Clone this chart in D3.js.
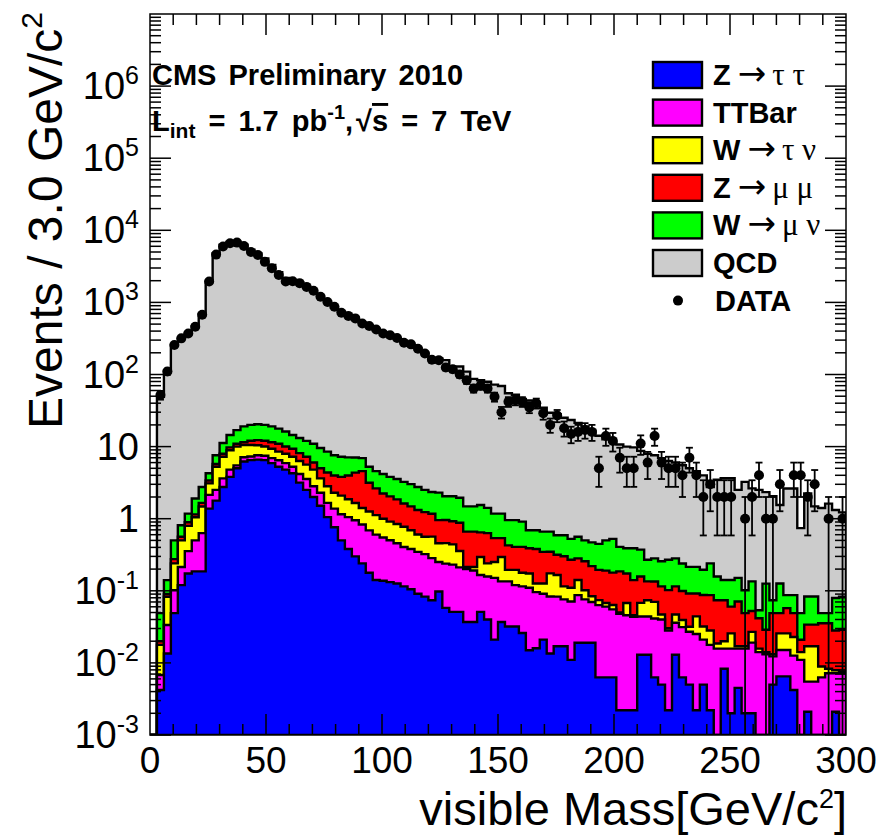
<!DOCTYPE html>
<html>
<head>
<meta charset="utf-8">
<script src="https://cdn.jsdelivr.net/npm/d3@7"></script>
<style>
  body { margin: 0; background: #fff; }
  text { font-family: "Liberation Sans", Arial, Helvetica, sans-serif; fill: #000; }
  .arrow { font-family: "DejaVu Sans", sans-serif; font-weight: normal; }
  .greek { font-family: "Liberation Serif", "DejaVu Serif", serif; font-weight: normal; }
</style>
</head>
<body>
<div id="chart"></div>
<script>
// 100 bins of 3 GeV, visible mass 0-300
const binWidth = 3;
const binLow = d3.range(0, 300, binWidth);

// MC samples (events per bin), stacked bottom -> top
const ztautau = [0,
  0.0042, 0.0135, 0.049, 0.12, 0.174, 0.186, 0.186, 1.38, 1.78, 2.75,
  3.8, 5.0, 6.2, 6.5, 6.6, 6.5, 5.9, 5.25, 4.8, 4.27,
  3.16, 2.51, 2.0, 1.51, 1.05, 0.76, 0.50, 0.38, 0.30, 0.24,
  0.178, 0.141, 0.138, 0.132, 0.126, 0.115, 0.105, 0.091, 0.083, 0.074,
  0.098, 0.058, 0.051, 0.051, 0.037, 0.037, 0.051, 0.040, 0.021, 0.037,
  0.032, 0.032, 0.026, 0.015, 0.016, 0.021, 0.0135, 0.017, 0.017, 0.011,
  0.019, 0.019, 0.019, 0.0063, 0.0063, 0.0063, 0.0022, 0.0022, 0.0022, 0.013,
  0.013, 0.0063, 0.005, 0.0022, 0.013, 0.0063, 0.005, 0.0022, 0.005, 0.0022,
  0, 0.0083, 0.002, 0.0045, 0.002, 0.002, 0, 0, 0.005, 0.0065,
  0.0065, 0.0042, 0, 0.0021, 0, 0, 0, 0.0021, 0];

const ttbar = [0,
  0.0026, 0.020, 0.053, 0.094, 0.181, 0.315, 0.445, 0.76, 0.73, 0.88,
  0.99, 0.49, 0.91, 0.78, 0.98, 0.95, 1.03, 1.21, 1.1, 0.98,
  1.01, 1.04, 0.82, 0.78, 0.61, 0.62, 0.65, 0.67, 0.65, 0.59,
  0.51, 0.46, 0.41, 0.37, 0.33, 0.29, 0.275, 0.256, 0.24, 0.21,
  0.153, 0.18, 0.18, 0.16, 0.163, 0.154, 0.115, 0.118, 0.13, 0.098,
  0.103, 0.088, 0.089, 0.095, 0.080, 0.070, 0.070, 0.066, 0.059, 0.060,
  0.068, 0.057, 0.051, 0.057, 0.054, 0.049, 0.0457, 0.0435, 0.0415, 0.031,
  0.031, 0.035, 0.035, 0.026, 0.023, 0.025, 0.022, 0.023, 0.016, 0.0156,
  0.0158, 0.0075, 0.0138, 0.0113, 0.0138, 0.0171, 0.0141, 0.0132, 0.0073, 0.0086,
  0.0086, 0.0084, 0.011, 0.0034, 0.0055, 0.0063, 0.0072, 0.0051, 0.0072];

const wtaunu = [0,
  0.011, 0.049, 0.138, 0.287, 0.439, 0.546, 0.848, 0.95, 2.74, 3.61,
  4.12, 4.5, 3.39, 3.23, 2.88, 2.59, 2.41, 2.05, 2.05, 1.99,
  2.14, 2.07, 1.97, 1.34, 1.16, 0.91, 0.94, 0.81, 0.70, 0.58,
  0.57, 0.52, 0.45, 0.41, 0.39, 0.37, 0.31, 0.256, 0.24, 0.28,
  0.206, 0.22, 0.21, 0.146, 0.014, 0.023, 0.129, 0.082, 0.10, 0.16,
  0.060, 0.075, 0.063, 0.064, 0.030, 0.035, 0.091, 0.083, 0.039, 0.039,
  0.054, 0.026, 0.014, 0.011, 0.0073, 0.0081, 0.0022, 0.0219, 0.002, 0.024,
  0.030, 0.029, 0.007, 0.002, 0.011, 0.008, 0.0047, 0.019, 0.011, 0.0104,
  0.0028, 0.0042, 0.0099, 0.0012, 0.0012, 0.0078, 0.0017, 0.0009, 0.0009, 0.0106,
  0.0106, 0.0103, 0.0031, 0.0115, 0.0115, 0.0026, 0.0011, 0.0007, 0.0004];

const zmumu = [0,
  0.0022, 0.008, 0.035, 0.061, 0.097, 0.10, 0.181, 0.30, 0.50, 0.70,
  0.86, 0.96, 1.01, 1.55, 1.83, 2.02, 2.15, 2.45, 2.06, 2.09,
  1.82, 1.62, 1.24, 1.38, 1.55, 1.69, 1.71, 2.12, 2.71, 3.16,
  1.90, 1.51, 1.24, 1.13, 1.01, 0.85, 0.79, 0.715, 0.67, 0.61,
  0.50, 0.50, 0.48, 0.52, 0.447, 0.447, 0.351, 0.391, 0.286, 0.242,
  0.232, 0.212, 0.229, 0.215, 0.254, 0.221, 0.173, 0.15, 0.187, 0.159,
  0.141, 0.155, 0.136, 0.121, 0.123, 0.115, 0.136, 0.106, 0.095, 0.090,
  0.061, 0.064, 0.068, 0.072, 0.068, 0.060, 0.060, 0.0475, 0.0555, 0.059,
  0.0555, 0.054, 0.0346, 0.054, 0.032, 0.0256, 0.0259, 0.0147, 0.0358, 0.0233,
  0.0318, 0.0261, 0.0068, 0.0169, 0.0169, 0.0266, 0.0272, 0.0203, 0.0212];

const wmunu = [0,
  0.029, 0.050, 0.226, 0.251, 0.284, 0.757, 1.094, 0.88, 1.84, 3.28,
  4.68, 6.0, 7.57, 7.93, 8.1, 7.93, 7.57, 6.82, 6.22, 5.12,
  5.05, 4.78, 4.93, 4.54, 4.14, 3.61, 3.44, 3.10, 2.71, 2.35,
  2.09, 1.94, 1.93, 1.76, 1.69, 1.62, 1.54, 1.43, 1.28, 1.17,
  1.34, 1.09, 1.13, 1.08, 0.82, 0.82, 0.90, 0.78, 0.64, 0.64,
  0.528, 0.548, 0.505, 0.303, 0.312, 0.314, 0.314, 0.273, 0.287, 0.256,
  0.28, 0.244, 0.249, 0.252, 0.31, 0.347, 0.221, 0.215, 0.248, 0.214,
  0.134, 0.147, 0.142, 0.167, 0.167, 0.14, 0.123, 0.123, 0.108, 0.153,
  0.084, 0.067, 0.081, 0.080, 0.053, 0.0825, 0.012, 0.097, 0.0251, 0.077,
  0.0296, 0.0381, 0.0281, 0.0493, 0.0493, 0.0135, 0.0135, 0.0512, 0.054];

const qcd = [0,
  49, 112, 256, 315, 371, 466, 689, 1946, 4778, 6299,
  6904, 6901, 6291, 5350, 4766, 4054, 3292, 2612, 2172, 1981,
  1892, 1648, 1402, 1220, 1014, 843, 734, 654, 582, 518,
  463, 412, 376, 351, 312, 279, 254, 231, 197, 164,
  164, 156, 127, 127, 108, 85.6, 81.6, 78, 71.2, 68,
  54, 51.5, 44.8, 43, 35.6, 34.0, 28.8, 27.6, 24.5, 22.9,
  20.8, 18.5, 16.1, 13.7, 12.1, 11.2, 10.3, 9.6, 9.38, 8.34,
  7.67, 7.31, 6.66, 6.04, 5.75, 5.26, 4.80, 4.36, 3.79, 2.51,
  3.31, 3.49, 3.49, 2.36, 3.14, 2.50, 2.46, 2.21, 1.97, 1.42,
  2.54, 2.54, 0.692, 2.16, 1.40, 1.36, 1.57, 1.24, 1.14];

// observed events per bin
const data = [0,
  52, 110, 257, 317, 371, 460, 675, 1950, 4600, 5950,
  6600, 6750, 6050, 5000, 4560, 3650, 2970, 2400, 1950, 1960,
  1850, 1640, 1450, 1200, 1010, 870, 720, 650, 600, 510,
  470, 420, 370, 350, 320, 275, 262, 228, 195, 160,
  158, 125, 118, 100, 83, 64, 70, 64, 49, 30,
  42, 44, 42, 35, 40, 29, 20, 27, 18, 15,
  16, 17, 16, 5, 14, 12, 7, 5, 5, 11,
  6, 14, 6, 5, 5, 4, 7, 4, 2, 3,
  2, 2, 2, 0, 1, 2, 4, 1, 1, 3,
  0, 4, 4, 2, 3, 0, 1, 0, 1];

const sampleKeys = ["ztautau", "ttbar", "wtaunu", "zmumu", "wmunu", "qcd"];
const sampleColors = ["#0000ff", "#ff00ff", "#ffff00", "#ff0000", "#00ff00", "#cccccc"];
// [bold part, arrow, decay products]
const legendNames = [["Z", "→", "τ τ"], ["TTBar", "", ""], ["W", "→", "τ ν"],
                     ["Z", "→", "μ μ"], ["W", "→", "μ ν"], ["QCD", "", ""]];

const xTickLabels = [0, 50, 100, 150, 200, 250, 300];
const yDecades = [-3, -2, -1, 0, 1, 2, 3, 4, 5, 6];

class StackPlot {

    constructor(selector) {
        this.width = 883;
        this.height = 836;
        this.frame = {left: 150, right: 846, top: 14, bottom: 735};

        this.svg = d3.select(selector)
            .append("svg")
                .attr("width", this.width)
                .attr("height", this.height);
        this.svg.append("rect")
            .attr("width", this.width).attr("height", this.height).attr("fill", "#fff");

        this.x = d3.scaleLinear().domain([0, 300]).range([this.frame.left, this.frame.right]);
        this.y = d3.scaleLog().domain([1e-3, 1e7]).range([this.frame.bottom, this.frame.top]);

        this.svg.append("clipPath").attr("id", "frameClip")
            .append("rect")
                .attr("x", this.frame.left).attr("y", this.frame.top)
                .attr("width", this.frame.right - this.frame.left)
                .attr("height", this.frame.bottom - this.frame.top);

        this.drawStack();
        this.drawData();
        this.drawAxes();
        this.drawLegend();
        this.drawTitles();
    }

    // y position, anything at or below the axis minimum sits on the frame bottom
    yc(v) {
        return v > 1e-3 ? this.y(v) : this.frame.bottom;
    }

    drawStack() {
        const series = {ztautau, ttbar, wtaunu, zmumu, wmunu, qcd};
        const rows = binLow.map((lo, i) => {
            const row = {lo: lo};
            sampleKeys.forEach(k => row[k] = series[k][i]);
            return row;
        });
        const layers = d3.stack().keys(sampleKeys)(rows);

        const stepPath = layer => {
            let p = `M${this.x(0)},${this.frame.bottom}`;
            layer.forEach((d, i) => {
                const yy = this.yc(d[1]);
                p += `L${this.x(binLow[i])},${yy}L${this.x(binLow[i] + binWidth)},${yy}`;
            });
            return p + `L${this.x(300)},${this.frame.bottom}Z`;
        };

        // biggest cumulative first, like a ROOT THStack
        this.svg.append("g")
            .attr("clip-path", "url(#frameClip)")
            .selectAll("path")
            .data(layers.slice().reverse())
            .join("path")
                .attr("d", stepPath)
                .attr("fill", d => sampleColors[d.index])
                .attr("stroke", "#000")
                .attr("stroke-width", 2.4)
                .attr("stroke-linejoin", "miter");
    }

    drawData() {
        const pts = data.map((n, i) => ({n: n, lo: binLow[i]})).filter(d => d.n > 0);
        const cx = d => this.x(d.lo + binWidth / 2);
        const hi = d => this.yc(d.n + Math.sqrt(d.n));
        const lo = d => this.yc(d.n - Math.sqrt(d.n));
        const g = this.svg.append("g")
            .attr("clip-path", "url(#frameClip)")
            .attr("stroke", "#000")
            .attr("stroke-width", 1.8);

        // vertical sqrt(N) errors
        g.selectAll(".ey").data(pts).join("line")
            .attr("x1", cx).attr("x2", cx)
            .attr("y1", lo).attr("y2", hi);
        // bin width
        g.selectAll(".ex").data(pts).join("line")
            .attr("x1", d => this.x(d.lo)).attr("x2", d => this.x(d.lo + binWidth))
            .attr("y1", d => this.y(d.n)).attr("y2", d => this.y(d.n));
        // end caps
        g.selectAll(".capHi").data(pts).join("line")
            .attr("x1", d => cx(d) - 3.5).attr("x2", d => cx(d) + 3.5)
            .attr("y1", hi).attr("y2", hi);
        g.selectAll(".capLo").data(pts).join("line")
            .attr("x1", d => cx(d) - 3.5).attr("x2", d => cx(d) + 3.5)
            .attr("y1", lo).attr("y2", lo);

        g.selectAll("circle").data(pts).join("circle")
            .attr("cx", cx)
            .attr("cy", d => this.y(d.n))
            .attr("r", 5)
            .attr("fill", "#000")
            .attr("stroke", "none");
    }

    drawAxes() {
        const f = this.frame;
        const g = this.svg.append("g").attr("stroke", "#000").attr("stroke-width", 1.5);

        g.append("rect")
            .attr("x", f.left).attr("y", f.top)
            .attr("width", f.right - f.left).attr("height", f.bottom - f.top)
            .attr("fill", "none");

        const xTicks = d3.range(10, 300, 10);
        const xLen = d => d % 50 === 0 ? 21 : 11;
        g.selectAll(".xb").data(xTicks).join("line")
            .attr("x1", d => this.x(d)).attr("x2", d => this.x(d))
            .attr("y1", f.bottom).attr("y2", d => f.bottom - xLen(d));
        g.selectAll(".xt").data(xTicks).join("line")
            .attr("x1", d => this.x(d)).attr("x2", d => this.x(d))
            .attr("y1", f.top).attr("y2", d => f.top + xLen(d));

        const yTicks = [];
        yDecades.forEach(e => {
            yTicks.push({v: Math.pow(10, e), major: true});
            d3.range(2, 10).forEach(k => yTicks.push({v: k * Math.pow(10, e), major: false}));
        });
        const yLen = d => d.major ? 21 : 11;
        g.selectAll(".yl").data(yTicks).join("line")
            .attr("x1", f.left).attr("x2", d => f.left + yLen(d))
            .attr("y1", d => this.y(d.v)).attr("y2", d => this.y(d.v));
        g.selectAll(".yr").data(yTicks).join("line")
            .attr("x1", f.right).attr("x2", d => f.right - yLen(d))
            .attr("y1", d => this.y(d.v)).attr("y2", d => this.y(d.v));

        // tick labels
        this.svg.append("g").selectAll("text").data(xTickLabels).join("text")
            .attr("x", d => this.x(d))
            .attr("y", 773)
            .attr("text-anchor", "middle")
            .attr("font-size", 37)
            .text(d => d);

        const yl = this.svg.append("g").selectAll("text").data(yDecades).join("text")
            .attr("x", 139)
            .attr("y", d => this.y(Math.pow(10, d)) + 13)
            .attr("text-anchor", "end")
            .attr("font-size", 38);
        yl.each(function(d) {
            const t = d3.select(this);
            if (d === 0) { t.text("1"); return; }
            t.append("tspan").text("10");
            if (d !== 1) {
                t.append("tspan").attr("font-size", 25).attr("dy", -15).text(d);
            }
        });

        // axis titles
        const xt = this.svg.append("text")
            .attr("x", 847).attr("y", 825)
            .attr("text-anchor", "end")
            .attr("font-size", 47);
        xt.append("tspan").text("visible Mass[GeV/c");
        xt.append("tspan").attr("font-size", 27).attr("dy", -17).text("2");
        xt.append("tspan").attr("dy", 17).text("]");

        const yt = this.svg.append("text")
            .attr("transform", "translate(62,12) rotate(-90)")
            .attr("text-anchor", "end")
            .attr("font-size", 48);
        yt.append("tspan").text("Events / 3.0 GeV/c");
        yt.append("tspan").attr("font-size", 30).attr("dy", -20).text("2");
    }

    drawLegend() {
        const x0 = 653, top0 = 62, pitch = 37.6;
        const g = this.svg.append("g");

        g.selectAll("rect").data(legendNames).join("rect")
            .attr("x", x0).attr("y", (d, i) => top0 + i * pitch)
            .attr("width", 49).attr("height", 26)
            .attr("fill", (d, i) => sampleColors[i])
            .attr("stroke", "#000")
            .attr("stroke-width", 2.4);

        const labels = g.selectAll("text").data(legendNames).join("text")
            .attr("x", 713).attr("y", (d, i) => top0 + i * pitch + 23)
            .attr("font-size", 29)
            .attr("font-weight", "bold");
        labels.append("tspan").text(d => d[0]);
        labels.filter(d => d[1] !== "").append("tspan")
            .attr("class", "arrow")
            .attr("font-size", 34)
            .attr("dx", 7)
            .text(d => d[1]);
        labels.filter(d => d[2] !== "").append("tspan")
            .attr("class", "greek")
            .attr("font-size", 31)
            .attr("dx", 6)
            .text(d => d[2]);

        const dataRow = top0 + 6 * pitch;
        g.append("circle").attr("cx", 678).attr("cy", dataRow + 13).attr("r", 5).attr("fill", "#000");
        g.append("text")
            .attr("x", 715).attr("y", dataRow + 23)
            .attr("font-size", 29).attr("font-weight", "bold")
            .text("DATA");
    }

    drawTitles() {
        this.svg.append("text")
            .attr("x", 152).attr("y", 85)
            .attr("font-size", 29).attr("font-weight", "bold")
            .attr("word-spacing", 4)
            .text("CMS Preliminary 2010");

        const lumi = this.svg.append("text")
            .attr("x", 152).attr("y", 131)
            .attr("font-size", 29).attr("font-weight", "bold")
            .attr("word-spacing", 5);
        lumi.append("tspan").text("L");
        lumi.append("tspan").attr("font-size", 21).attr("dy", 7).text("int");
        lumi.append("tspan").attr("dy", -7).text(" = 1.7 pb");
        lumi.append("tspan").attr("font-size", 20).attr("dy", -12).text("-1");
        lumi.append("tspan").attr("dy", 12).text(",");
        lumi.append("tspan").attr("dx", 3).text("√");
        lumi.append("tspan").style("text-decoration", "overline").text("s");
        lumi.append("tspan").text(" = 7 TeV");
    }
}

new StackPlot("#chart");
</script>
</body>
</html>
